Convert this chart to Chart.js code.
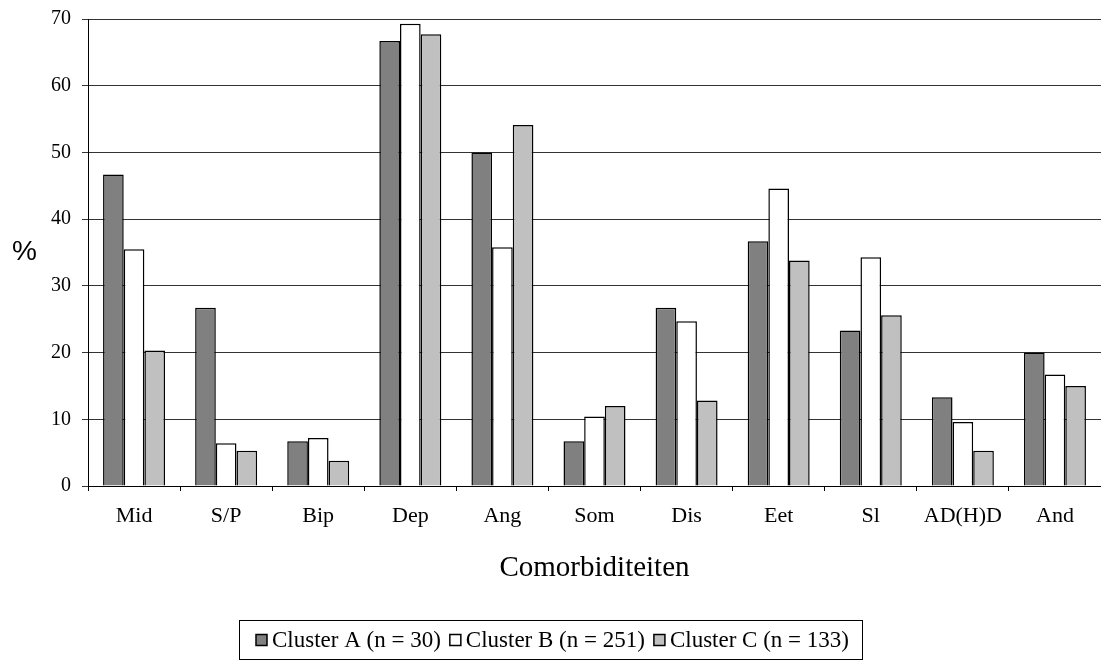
<!DOCTYPE html>
<html>
<head>
<meta charset="utf-8">
<title>Comorbiditeiten per cluster</title>
<script src="https://cdn.jsdelivr.net/npm/chart.js@4/dist/chart.umd.min.js"></script>
<style>
  html, body { margin: 0; padding: 0; background: #fff; overflow: hidden; }
  canvas { display: block; }
</style>
</head>
<body>
<canvas id="chart" width="1101" height="664"></canvas>
<script>
// Comorbidity categories along the x axis
const categories = ['Mid', 'S/P', 'Bip', 'Dep', 'Ang', 'Som', 'Dis', 'Eet', 'Sl', 'AD(H)D', 'And'];

// Percentage per cluster
const clusterA = [46.7, 26.7, 6.7, 66.7, 50.0, 6.7, 26.7, 36.7, 23.3, 13.3, 20.0];
const clusterB = [35.5, 6.4, 7.2, 69.3, 35.8, 10.4, 24.7, 44.6, 34.3, 9.6, 16.7];
const clusterC = [20.3, 5.3, 3.8, 67.7, 54.1, 12.0, 12.8, 33.8, 25.6, 5.3, 15.0];

// Series names and y-axis tick range
const seriesLabels = ['Cluster A (n = 30)', 'Cluster B (n = 251)', 'Cluster C (n = 133)'];
const yTicks = { min: 0, max: 70, step: 10 };
const xTitle = 'Comorbiditeiten';
const yTitle = '%';

const fills = ['#808080', '#ffffff', '#c0c0c0'];
const serif = "'Liberation Serif', 'Times New Roman', serif";

// Draws the horizontal "%" axis title and the boxed legend
const decorations = {
  id: 'decorations',
  afterDraw(chart) {
    const ctx = chart.ctx;
    ctx.save();
    // y-axis title
    ctx.fillStyle = '#000';
    ctx.font = "28px 'Liberation Sans', Arial, sans-serif";
    ctx.textAlign = 'center';
    ctx.textBaseline = 'middle';
    ctx.fillText(yTitle, 24.5, 252);

    // legend
    ctx.font = '23px ' + serif;
    const box = 11, gapText = 5, gapItem = 9, padL = 17, padR = 13;
    const widths = chart.data.datasets.map(d => ctx.measureText(d.label).width);
    let total = 0;
    widths.forEach((w, i) => { total += box + gapText + w + (i ? gapItem : 0); });
    const outer = total + padL + padR;
    const boxLeft = Math.round(chart.width / 2 - outer / 2);
    const midY = 640;
    ctx.strokeStyle = '#000';
    ctx.lineWidth = 1;
    ctx.strokeRect(boxLeft + 0.5, 620.5, Math.round(outer), 39);
    let x = boxLeft + padL;
    ctx.textAlign = 'left';
    chart.data.datasets.forEach((d, i) => {
      ctx.fillStyle = d.backgroundColor;
      ctx.fillRect(x, midY - box / 2, box, box);
      ctx.lineWidth = 1.5;
      ctx.strokeRect(x, midY - box / 2, box, box);
      ctx.fillStyle = '#000';
      ctx.fillText(d.label, x + box + gapText, midY + 1);
      x += box + gapText + widths[i] + gapItem;
    });
    ctx.restore();
  }
};

new Chart(document.getElementById('chart'), {
  type: 'bar',
  data: {
    labels: categories,
    datasets: [clusterA, clusterB, clusterC].map((values, i) => ({
      label: seriesLabels[i],
      data: values,
      backgroundColor: fills[i],
      borderColor: '#000',
      borderWidth: 1.5,
      categoryPercentage: 0.673,
      barPercentage: 1.0
    }))
  },
  options: {
    responsive: false,
    devicePixelRatio: 1,
    animation: false,
    layout: { padding: { top: 19, right: 0, bottom: 78, left: 0 } },
    plugins: {
      legend: { display: false },
      tooltip: { enabled: false }
    },
    scales: {
      x: {
        offset: true,
        grid: {
          offset: true,
          drawOnChartArea: false,
          drawTicks: true,
          tickLength: 5,
          color: '#000'
        },
        border: { color: '#000', width: 1 },
        ticks: {
          font: { family: serif, size: 22 },
          color: '#000',
          padding: 12,
          autoSkip: false,
          maxRotation: 0
        },
        title: {
          display: true,
          text: xTitle,
          font: { family: serif, size: 29 },
          color: '#000',
          padding: { top: 0, bottom: 0 }
        },
        afterFit(scale) {
          scale.height = 100;
          scale.paddingLeft = 0;
          scale.paddingRight = 0;
        }
      },
      y: {
        min: yTicks.min,
        max: yTicks.max,
        ticks: {
          stepSize: yTicks.step,
          font: { family: serif, size: 20 },
          color: '#000',
          padding: 11
        },
        grid: {
          color: '#333',
          lineWidth: 1,
          drawTicks: true,
          tickLength: 6
        },
        border: { color: '#000', width: 1 },
        afterFit(scale) {
          scale.width = 88;
          scale.paddingTop = 0;
          scale.paddingBottom = 0;
        }
      }
    }
  },
  plugins: [decorations]
});
</script>
</body>
</html>
